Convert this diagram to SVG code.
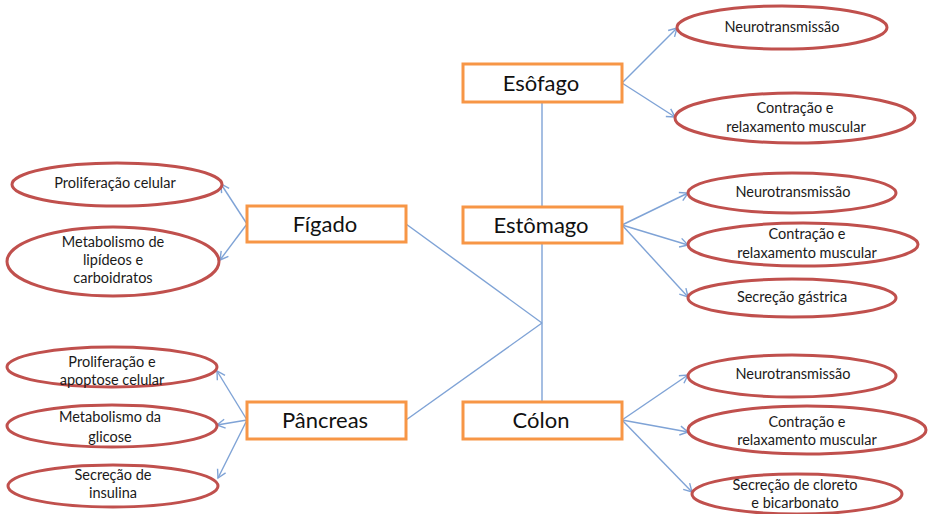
<svg xmlns="http://www.w3.org/2000/svg" width="928" height="514" viewBox="0 0 928 514">
<defs>
<marker id="arr" markerUnits="userSpaceOnUse" markerWidth="12" markerHeight="12" viewBox="0 0 12 12" refX="10" refY="6" orient="auto">
<path d="M2,1.5 L10,6 L2,10.5" fill="none" stroke="#7fa3d6" stroke-width="1.4"/>
</marker>
</defs>
<style>
.box{fill:#fff;stroke:#f79646;stroke-width:3}
.ell{fill:#fff;stroke:#c0504d;stroke-width:3}
.bt{font-family:Lato,"Open Sans","Liberation Sans",sans-serif;font-size:22px;fill:#111;text-anchor:middle}
.et{font-family:Lato,"Open Sans","Liberation Sans",sans-serif;font-size:14.5px;fill:#1a1a1a;text-anchor:middle}
.c{stroke:#7fa3d6;stroke-width:1.4;fill:none}
.a{marker-end:url(#arr)}
</style>
<rect width="928" height="514" fill="#fff"/>
<g id="connectors">
<line class="c" x1="542" y1="102" x2="542" y2="207"/>
<line class="c" x1="542" y1="243" x2="542" y2="402"/>
<line class="c" x1="406" y1="224" x2="542" y2="323"/>
<line class="c" x1="406" y1="420" x2="542" y2="323"/>
<line class="c a" x1="622" y1="83" x2="677" y2="28"/>
<line class="c a" x1="622" y1="83" x2="675" y2="117"/>
<line class="c a" x1="622" y1="225" x2="688" y2="193"/>
<line class="c a" x1="622" y1="225" x2="688" y2="245"/>
<line class="c a" x1="622" y1="225" x2="688" y2="297"/>
<line class="c a" x1="622" y1="420" x2="688" y2="375"/>
<line class="c a" x1="622" y1="420" x2="688" y2="432"/>
<line class="c a" x1="622" y1="420" x2="692" y2="492"/>
<line class="c a" x1="247" y1="224" x2="221" y2="184"/>
<line class="c a" x1="247" y1="224" x2="220" y2="260"/>
<line class="c a" x1="247" y1="420" x2="217" y2="371"/>
<line class="c a" x1="247" y1="420" x2="217" y2="425"/>
<line class="c a" x1="247" y1="420" x2="218" y2="478"/>
</g>
<g id="esofago"><rect class="box" x="463" y="64" width="159" height="38"/><text class="bt" x="541" y="91">Esôfago</text></g>
<g id="estomago"><rect class="box" x="463" y="207" width="159" height="36"/><text class="bt" x="541" y="233">Estômago</text></g>
<g id="colon"><rect class="box" x="463" y="402" width="159" height="37"/><text class="bt" x="541" y="428">Cólon</text></g>
<g id="figado"><rect class="box" x="247" y="206" width="159" height="36"/><text class="bt" x="325" y="232">Fígado</text></g>
<g id="pancreas"><rect class="box" x="247" y="402" width="159" height="37"/><text class="bt" x="325" y="428">Pâncreas</text></g>
<g id="eso-neuro"><ellipse class="ell" cx="782" cy="27.5" rx="105" ry="21.5"/><text class="et" x="782" y="32">Neurotransmissão</text></g>
<g id="eso-contr"><ellipse class="ell" cx="795" cy="118" rx="120" ry="25"/><text class="et" x="795" y="113">Contração e</text><text class="et" x="796" y="132">relaxamento muscular</text></g>
<g id="est-neuro"><ellipse class="ell" cx="792" cy="193" rx="104" ry="20"/><text class="et" x="793" y="197">Neurotransmissão</text></g>
<g id="est-contr"><ellipse class="ell" cx="803" cy="244.5" rx="115" ry="21.5"/><text class="et" x="807" y="239">Contração e</text><text class="et" x="807" y="258">relaxamento muscular</text></g>
<g id="est-secr"><ellipse class="ell" cx="792" cy="298" rx="104" ry="19"/><text class="et" x="792" y="302">Secreção gástrica</text></g>
<g id="col-neuro"><ellipse class="ell" cx="792" cy="376" rx="104" ry="21"/><text class="et" x="793" y="379">Neurotransmissão</text></g>
<g id="col-contr"><ellipse class="ell" cx="807" cy="430" rx="119" ry="24"/><text class="et" x="807" y="427">Contração e</text><text class="et" x="807" y="445">relaxamento muscular</text></g>
<g id="col-secr"><ellipse class="ell" cx="797" cy="494" rx="105" ry="20"/><text class="et" x="795" y="490">Secreção de cloreto</text><text class="et" x="795" y="508">e bicarbonato</text></g>
<g id="fig-prolif"><ellipse class="ell" cx="117" cy="184.5" rx="105" ry="21.5"/><text class="et" x="115" y="188">Proliferação celular</text></g>
<g id="fig-metab"><ellipse class="ell" cx="113" cy="261.5" rx="106" ry="34.5"/><text class="et" x="113" y="247">Metabolismo de</text><text class="et" x="113" y="265">lipídeos e</text><text class="et" x="113" y="283">carboidratos</text></g>
<g id="pan-prolif"><ellipse class="ell" cx="112" cy="367" rx="105" ry="20"/><text class="et" x="112" y="367">Proliferação e</text><text class="et" x="112" y="385">apoptose celular</text></g>
<g id="pan-metab"><ellipse class="ell" cx="112" cy="426" rx="105" ry="21"/><text class="et" x="110" y="422">Metabolismo da</text><text class="et" x="110" y="442">glicose</text></g>
<g id="pan-secr"><ellipse class="ell" cx="113" cy="486" rx="105" ry="21"/><text class="et" x="113" y="480">Secreção de</text><text class="et" x="113" y="498">insulina</text></g>
</svg>
